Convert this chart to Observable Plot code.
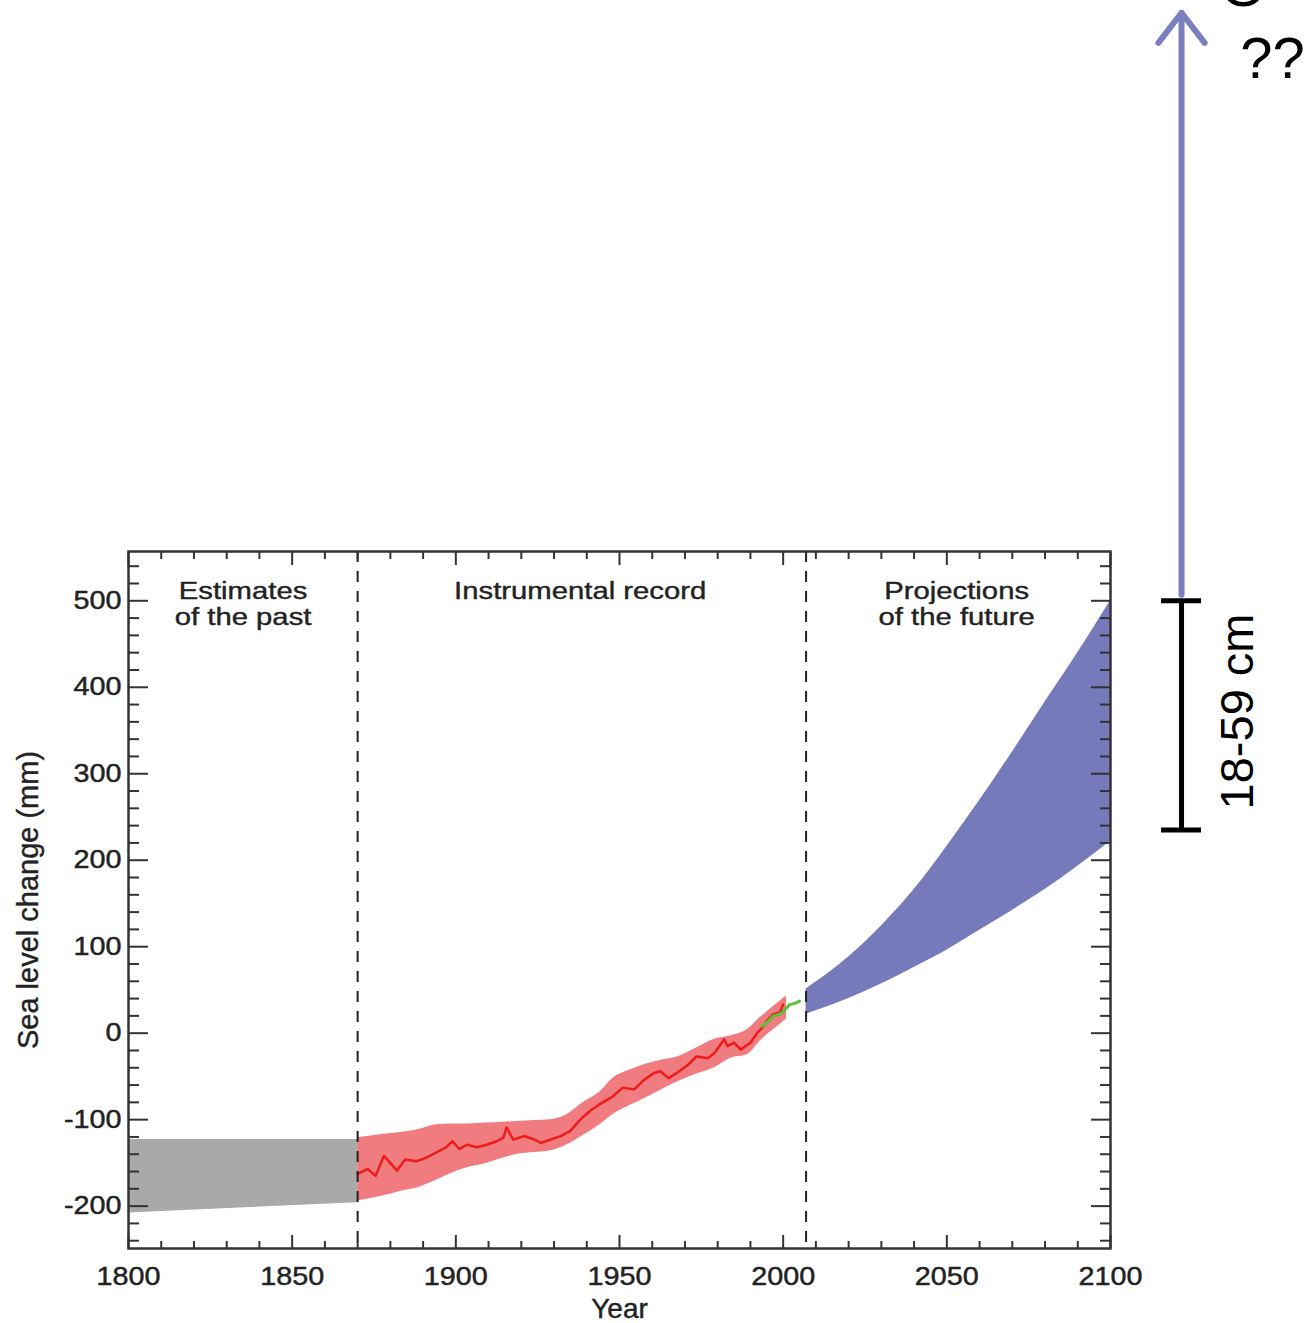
<!DOCTYPE html>
<html><head><meta charset="utf-8">
<script src="https://cdn.jsdelivr.net/npm/d3@7"></script>
<script src="https://cdn.jsdelivr.net/npm/@observablehq/plot@0.6"></script>
<style>
html,body{margin:0;padding:0;background:#fff;}
#chart svg{display:block;}
#chart g[aria-label="x-axis tick label"] text,
#chart g[aria-label="y-axis tick label"] text{stroke:#222;stroke-width:0.45px;}
</style></head><body><div id="chart"></div>
<script>
// ---------- data ----------
const grayYears = [1800, 1870];
const grayUpper = [-123, -123];
const grayLower = [-208, -196];

const redBandYears = [1870, 1878, 1883, 1888, 1894, 1898, 1904, 1909, 1914, 1919, 1924, 1929, 1934, 1939, 1944, 1948, 1953, 1958, 1963, 1968, 1973, 1979, 1984, 1989, 1993, 1999, 2001];
const redBandUpper = [-121, -117, -115, -112, -106, -105, -105, -104, -103, -102, -101, -100, -94, -80, -68, -52, -43, -36, -31, -27, -18, -7, -3, 4, 18, 37, 43];
const redBandLower = [-194, -188, -183, -179, -170, -163, -155, -151, -145, -140, -138, -136, -129, -118, -106, -94, -84, -75, -65, -56, -48, -40, -29, -25, -9, 10, 16];

const redYears = [1870, 1873, 1875.5, 1878, 1879.5, 1882, 1884.5, 1888, 1891, 1894, 1897, 1899, 1901, 1903.5, 1906.5, 1909.5, 1912.5, 1914.5, 1915.5, 1917.5, 1921, 1924, 1926, 1929, 1932, 1935, 1938, 1941, 1944, 1948, 1951, 1954.5, 1957.5, 1960.5, 1962.5, 1965, 1967.5, 1970.5, 1973.5, 1977, 1979, 1982, 1983, 1985, 1987, 1990, 1992, 1993.5, 1995, 1997, 1999, 2000];
const redValues = [-163, -157, -165, -142, -148, -159, -146, -148, -144, -138, -132, -125, -134, -129, -132, -129, -125, -121, -109, -123, -119, -123, -127, -123, -119, -113, -100, -90, -82, -73, -63, -65, -54, -46, -44, -52, -46, -38, -27, -29, -23, -7, -15, -11, -19, -11, 0, 6, 14, 22, 24, 33];

const greenYears = [1993.5, 1995, 1997, 1999, 2000.5, 2002, 2004, 2005];
const greenValues = [8, 12, 20, 22, 27, 33, 35, 37];

const blueYears = [2007, 2020, 2030, 2040, 2050, 2060, 2070, 2080, 2090, 2100];
const blueUpper = [51, 88, 124, 166, 216, 269, 325, 383, 440, 500];
const blueLower = [22, 40, 57, 76, 96, 119, 142, 166, 193, 222];

const eraBounds = [1870, 2007];
const sectionLabels = ["Estimates\nof the past", "Instrumental record", "Projections\nof the future"];
const sectionCenters = [1835, 1938, 2053];

const xMajorTicks = [1800, 1850, 1900, 1950, 2000, 2050, 2100];
const xMinorTicks = [1810, 1820, 1830, 1840, 1860, 1870, 1880, 1890, 1910, 1920, 1930, 1940, 1960, 1970, 1980, 1990, 2010, 2020, 2030, 2040, 2060, 2070, 2080, 2090];
const yMajorTicks = [-200, -100, 0, 100, 200, 300, 400, 500];
const yMinorTicks = [-240, -220, -180, -160, -140, -120, -80, -60, -40, -20, 20, 40, 60, 80, 120, 140, 160, 180, 220, 240, 260, 280, 320, 340, 360, 380, 420, 440, 460, 480, 520, 540];

const xTitle = "Year";
const yTitle = "Sea level change (mm)";

// annotation (slide overlay) values
const rangeLabel = "18-59 cm";
const rangeBounds = [235, 500];
const questionLabel = "??";
const topGlyph = "O";

// ---------- tables ----------
const gray = grayYears.map((year, i) => ({year, lo: grayLower[i], hi: grayUpper[i]}));
const redBand = redBandYears.map((year, i) => ({year, lo: redBandLower[i], hi: redBandUpper[i]}));
const redLine = redYears.map((year, i) => ({year, v: redValues[i]}));
const green = greenYears.map((year, i) => ({year, v: greenValues[i]}));
const blue = blueYears.map((year, i) => ({year, lo: blueLower[i], hi: blueUpper[i]}));
const sections = sectionLabels.map((label, i) => ({label, x: sectionCenters[i]}));

const annX = 2121.7;
const frameColor = "#333";
const fontFam = "'Liberation Sans', Arial, Helvetica, sans-serif";

const plot = Plot.plot({
  width: 1310,
  height: 1323,
  marginLeft: 128,
  marginRight: 200,
  marginTop: 551,
  marginBottom: 75,
  style: {fontFamily: fontFam, background: "white", color: frameColor, overflow: "visible"},
  x: {domain: [1800, 2100]},
  y: {domain: [-249, 557]},
  marks: [
    Plot.areaY(gray, {x: "year", y1: "lo", y2: "hi", fill: "#a9a9a9", curve: "monotone-x"}),
    Plot.areaY(redBand, {x: "year", y1: "lo", y2: "hi", fill: "#f07c80", curve: "monotone-x"}),
    Plot.areaY(blue, {x: "year", y1: "lo", y2: "hi", fill: "#7679ba", curve: "monotone-x"}),
    Plot.line(redLine, {x: "year", y: "v", stroke: "#ee1b1b", strokeWidth: 2.5}),
    Plot.line(green, {x: "year", y: "v", stroke: "#58c23c", strokeWidth: 3}),
    Plot.ruleX(eraBounds, {stroke: "#222", strokeWidth: 2, strokeDasharray: "11,9"}),
    Plot.text(sections, {x: "x", text: "label", frameAnchor: "top", lineAnchor: "top", dy: 30, fontSize: 24, lineHeight: 1.05, fill: "#222", stroke: "#222", strokeWidth: 0.4}),
    // inward ticks on all four sides
    Plot.axisX(xMajorTicks, {anchor: "bottom", tickSize: -13, fill: "none", stroke: frameColor, strokeWidth: 2, label: null}),
    Plot.axisX(xMinorTicks, {anchor: "bottom", tickSize: -7, fill: "none", stroke: frameColor, strokeWidth: 2, label: null}),
    Plot.axisX(xMajorTicks, {anchor: "top", tickSize: -13, fill: "none", stroke: frameColor, strokeWidth: 2, label: null}),
    Plot.axisX(xMinorTicks, {anchor: "top", tickSize: -7, fill: "none", stroke: frameColor, strokeWidth: 2, label: null}),
    Plot.axisY(yMajorTicks, {anchor: "left", tickSize: -20, fill: "none", stroke: frameColor, strokeWidth: 2, label: null}),
    Plot.axisY(yMinorTicks, {anchor: "left", tickSize: -11, fill: "none", stroke: frameColor, strokeWidth: 2, label: null}),
    Plot.axisY(yMajorTicks, {anchor: "right", tickSize: -20, fill: "none", stroke: frameColor, strokeWidth: 2, label: null}),
    Plot.axisY(yMinorTicks, {anchor: "right", tickSize: -11, fill: "none", stroke: frameColor, strokeWidth: 2, label: null}),
    // tick labels
    Plot.axisX(xMajorTicks, {anchor: "bottom", tickSize: 0, tickPadding: 19, fontSize: 25, tickFormat: d => String(d), fill: "#222", label: null}),
    Plot.axisY(yMajorTicks, {anchor: "left", tickSize: 0, tickPadding: 7, fontSize: 25, tickFormat: d => String(d), fill: "#222", label: null}),
    Plot.text([xTitle], {frameAnchor: "bottom", lineAnchor: "middle", textAnchor: "middle", dy: 61, fontSize: 28, fill: "#222", stroke: "#222", strokeWidth: 0.4}),
    Plot.text([yTitle], {frameAnchor: "left", textAnchor: "middle", lineAnchor: "middle", dx: -100, rotate: -90, fontSize: 29, fill: "#222", stroke: "#222", strokeWidth: 0.4}),
    Plot.frame({stroke: frameColor, strokeWidth: 2.5}),
    // slide overlay annotations
    Plot.arrow([0], {x1: annX, x2: annX, y1: 507, y2: 1180, stroke: "#7b7fc0", strokeWidth: 6, headLength: 9.5, headAngle: 75}),
    Plot.ruleX([annX], {y1: rangeBounds[0], y2: rangeBounds[1], stroke: "black", strokeWidth: 5}),
    Plot.ruleY(rangeBounds, {x1: 2115.6, x2: 2127.8, stroke: "black", strokeWidth: 5}),
    Plot.text([rangeLabel], {x: 2139, y: 372, rotate: -90, fontSize: 47, fill: "black"}),
    Plot.text([questionLabel], {x: 2149.5, y: 1126, fontSize: 58, fill: "black"}),
    Plot.text([topGlyph], {x: 2140.6, y: 1210, fontSize: 60, fill: "black"})
  ]
});

// horizontal stretch of the original figure's printed labels
function stretch(sel, s) {
  sel.forEach(t => {
    const tr = t.getAttribute("transform") || "";
    t.setAttribute("transform", tr + ` scale(${s},1)`);
  });
}
const svg = plot.tagName.toLowerCase() === "svg" ? plot : plot.querySelector("svg");
const tickTexts = [...svg.querySelectorAll('g[aria-label="x-axis tick label"] text, g[aria-label="y-axis tick label"] text')];
stretch(tickTexts, 1.15);
const flat = sectionLabels.map(s => s.replace("\n", ""));
const secTexts = [...svg.querySelectorAll("text")].filter(t => flat.includes(t.textContent));
stretch(secTexts, 1.22);

document.getElementById("chart").appendChild(plot);
</script>
</body></html>
